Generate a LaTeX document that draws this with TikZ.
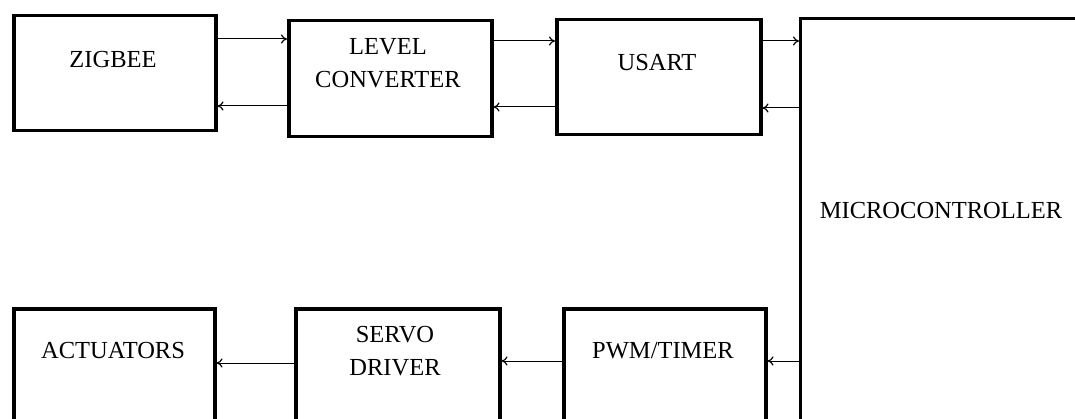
\documentclass[tikz,border=0pt]{standalone}
\usepackage{fontspec}
\setmainfont{Liberation Serif}
\usetikzlibrary{arrows.meta}
\begin{document}
\begin{tikzpicture}[x=1pt,y=-1pt,
  box/.style={draw, line width=3.5pt, rectangle, inner sep=0pt, anchor=north west},
  mcbox/.style={draw, line width=3pt, rectangle, inner sep=0pt, anchor=north west},
  lbl/.style={font=\fontsize{24.5}{33}\selectfont, align=center, inner sep=0pt},
  arr/.style={line width=1pt, -{To[length=6pt,width=9pt,line width=1.2pt]}}]
\useasboundingbox (0,0) rectangle (1075,419);
\clip (0,0) rectangle (1075,419);
% top row
\node[box, minimum width=202pt, minimum height=115pt] (zig) at (12,14) {};
\node[box, minimum width=203pt, minimum height=116pt] (lc) at (287,19) {};
\node[box, minimum width=204pt, minimum height=115pt] (usart) at (555,18) {};
\node[mcbox, minimum width=320pt, minimum height=430pt] (mc) at (799,17) {};
% bottom row
\node[box, minimum width=201pt, minimum height=140pt] (act) at (12,307) {};
\node[box, minimum width=204pt, minimum height=140pt] (servo) at (294,307) {};
\node[box, minimum width=202pt, minimum height=140pt] (pwm) at (562,307) {};
% labels
\node[lbl] (tzig) at (113,60) {ZIGBEE};
\node[lbl] (tlc) at (388,63.5) {LEVEL\\CONVERTER};
\node[lbl] (tusart) at (657,63) {USART};
\node[lbl] (tmc) at (941,211) {MICROCONTROLLER};
\node[lbl] (tact) at (113,351) {ACTUATORS};
\node[lbl] (tservo) at (395,351.5) {SERVO\\DRIVER};
\node[lbl] (tpwm) at (663,351) {PWM/TIMER};
% connectors
\draw[arr] (zig.east |- 0,39) -- (lc.west |- 0,39);
\draw[arr] (lc.west |- 0,106) -- (zig.east |- 0,106);
\draw[arr] (lc.east |- 0,41) -- (usart.west |- 0,41);
\draw[arr] (usart.west |- 0,107) -- (lc.east |- 0,107);
\draw[arr] (usart.east |- 0,41) -- (mc.west |- 0,41);
\draw[arr] (mc.west |- 0,108) -- (usart.east |- 0,108);
\draw[arr] (mc.west |- 0,361) -- (pwm.east |- 0,361);
\draw[arr] (pwm.west |- 0,361) -- (servo.east |- 0,361);
\draw[arr] (servo.west |- 0,363) -- (act.east |- 0,363);
\end{tikzpicture}
\end{document}
